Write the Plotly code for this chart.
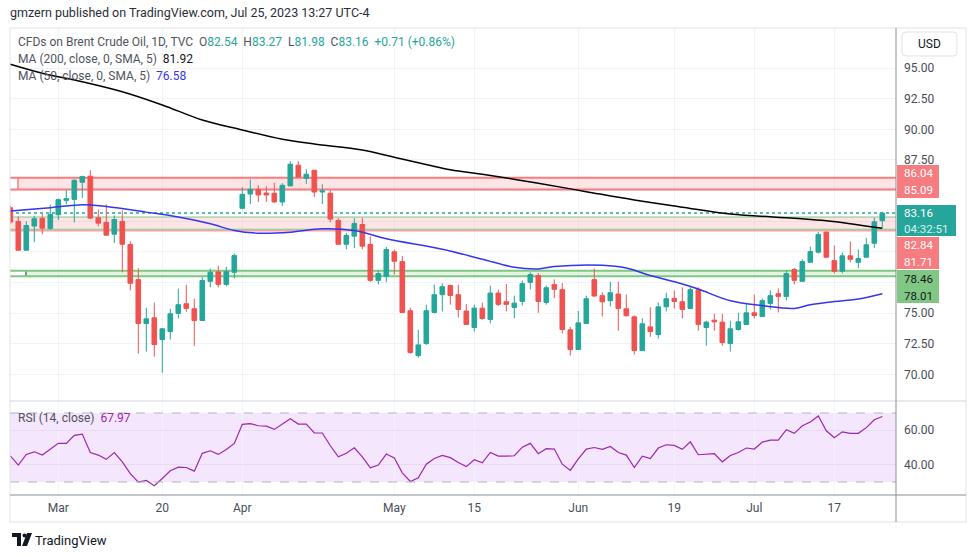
import plotly.graph_objects as go
import pandas as pd

W, H = 970, 557

# ---------------- data ----------------
dates = [d.strftime("%Y-%m-%d") for d in pd.bdate_range("2023-02-21", "2023-07-25")
         if d.strftime("%Y-%m-%d") != "2023-04-07"]

opens = [83.60, 82.48, 80.13, 82.10, 82.73, 81.91, 83.03, 84.20, 84.28, 85.68,
         86.17, 82.78, 82.40, 81.44, 82.48, 80.60, 77.73, 74.15, 74.61, 72.84,
         73.49, 74.97, 75.76, 75.35, 74.39, 77.59, 78.36, 77.34, 78.33, 83.55,
         84.72, 85.10, 84.80, 84.78, 84.07, 85.38, 87.07, 86.00, 86.66, 84.88,
         84.78, 82.56, 80.62, 81.28, 82.23, 80.60, 77.67, 78.00, 80.00, 79.20,
         75.19, 71.53, 72.51, 75.05, 76.50, 77.24, 76.50, 75.16, 73.82, 75.40,
         74.48, 76.63, 75.92, 75.46, 75.95, 77.51, 78.06, 75.87, 77.32, 76.91,
         73.63, 72.02, 74.15, 77.73, 76.42, 76.01, 76.55, 75.35, 74.69, 71.94,
         73.87, 73.25, 75.51, 76.20, 75.92, 75.38, 76.91, 73.82, 74.42, 74.26,
         72.51, 73.66, 74.07, 75.02, 74.72, 75.79, 76.58, 76.36, 78.55, 77.59,
         79.15, 79.97, 81.61, 79.28, 78.41, 79.67, 79.15, 79.56, 80.70, 82.54]
highs = [83.75, 82.89, 82.50, 82.95, 83.11, 83.85, 84.34, 85.02, 85.92, 86.22,
         86.66, 83.46, 83.87, 82.97, 83.38, 80.87, 78.66, 75.43, 75.84, 73.79,
         75.35, 76.99, 77.32, 76.17, 77.92, 78.63, 78.87, 78.79, 79.86, 85.27,
         85.90, 85.43, 85.35, 85.62, 85.60, 87.40, 87.40, 86.74, 86.66, 85.51,
         85.02, 82.75, 81.55, 82.75, 82.78, 81.25, 78.47, 80.40, 80.19, 79.67,
         75.43, 73.63, 75.68, 77.32, 77.43, 77.32, 77.32, 75.73, 75.68, 75.84,
         77.24, 76.91, 77.37, 76.42, 77.65, 78.33, 78.27, 77.24, 77.75, 77.45,
         73.87, 75.16, 76.42, 78.63, 76.69, 77.56, 77.56, 76.52, 74.80, 74.56,
         75.46, 75.87, 76.66, 76.83, 77.10, 77.10, 77.10, 74.37, 74.94, 74.94,
         74.37, 75.02, 75.71, 76.50, 76.20, 76.85, 77.02, 78.47, 78.68, 79.39,
         80.43, 81.63, 81.65, 80.51, 79.94, 80.84, 80.19, 81.14, 82.78, 83.27]
lows = [82.30, 80.10, 80.10, 80.79, 81.44, 81.80, 82.59, 83.87, 82.40, 84.39,
        82.70, 82.07, 81.30, 80.71, 78.33, 76.85, 71.69, 71.85, 71.44, 70.13,
        72.84, 74.56, 75.10, 72.32, 74.39, 77.10, 77.10, 77.18, 77.84, 83.46,
        83.90, 84.07, 84.07, 84.00, 83.74, 85.38, 86.11, 85.54, 84.48, 83.90,
        82.40, 80.62, 80.21, 80.30, 80.21, 77.54, 77.34, 77.51, 78.16, 75.05,
        71.69, 71.36, 72.40, 74.97, 75.13, 75.68, 74.64, 74.07, 73.49, 74.45,
        74.15, 75.57, 75.13, 74.56, 75.62, 76.94, 75.02, 75.68, 76.20, 73.33,
        71.53, 72.02, 74.15, 76.33, 74.72, 75.54, 73.55, 74.72, 71.61, 71.94,
        73.06, 72.92, 75.13, 75.38, 74.56, 75.38, 73.55, 72.34, 73.55, 72.34,
        71.85, 73.55, 74.07, 74.56, 74.72, 75.30, 75.05, 76.03, 77.34, 77.59,
        79.15, 79.86, 79.50, 78.25, 78.25, 79.15, 78.66, 79.56, 80.30, 81.98]
closes = [82.43, 80.13, 82.15, 82.70, 81.93, 83.05, 84.26, 84.34, 85.84, 86.14,
          82.75, 82.34, 81.36, 82.64, 80.62, 77.43, 74.15, 74.53, 72.43, 73.71,
          74.94, 75.68, 75.38, 74.39, 77.65, 78.33, 77.34, 78.38, 79.69, 84.69,
          85.10, 84.64, 84.64, 84.07, 85.43, 87.15, 86.11, 86.33, 84.88, 84.97,
          82.67, 80.62, 81.33, 82.32, 80.46, 77.67, 78.22, 80.19, 79.23, 75.05,
          71.77, 72.40, 75.19, 76.50, 77.15, 76.44, 75.30, 74.07, 75.40, 74.56,
          76.63, 75.71, 75.71, 75.81, 77.40, 78.14, 75.95, 77.07, 76.94, 73.66,
          72.02, 74.20, 76.17, 76.39, 75.92, 76.66, 75.38, 74.78, 71.94, 74.12,
          73.49, 75.51, 76.17, 75.95, 75.30, 76.91, 74.07, 74.26, 74.28, 72.59,
          73.71, 74.28, 75.02, 74.80, 76.01, 76.42, 76.36, 78.22, 77.67, 79.20,
          80.02, 81.42, 79.56, 78.41, 79.67, 79.39, 79.45, 80.57, 82.45, 83.16]

ma200_idx = [0, 4, 9, 14, 19, 24, 29, 34, 38, 44, 48, 55, 59, 66, 72, 78, 84, 90, 98, 102, 109]
ma200_val = [95.31, 94.58, 93.89, 93.07, 91.99, 90.76, 89.95, 89.19, 88.80, 88.31, 87.72,
             86.70, 86.33, 85.60, 84.91, 84.23, 83.64, 83.09, 82.74, 82.54, 81.92]
ma50_idx = [0, 5, 9, 12, 17, 21, 25, 28, 31, 35, 39, 43, 47, 54, 59, 63, 66, 68, 74, 77,
            80, 84, 86, 90, 94, 98, 100, 102, 106, 109]
ma50_val = [83.33, 83.60, 83.85, 83.70, 83.24, 82.84, 82.29, 81.74, 81.52, 81.60, 81.88,
            81.74, 81.06, 80.21, 79.40, 78.74, 78.60, 78.80, 78.90, 78.68, 78.06, 77.37,
            76.96, 76.00, 75.60, 75.38, 75.68, 75.87, 76.14, 76.58]

rsi = [45.2, 39.8, 46.0, 47.5, 45.6, 48.9, 52.4, 52.4, 57.0, 57.8,
       47.1, 45.6, 43.1, 47.1, 41.7, 34.9, 29.9, 30.9, 27.8, 32.0,
       36.5, 38.6, 38.4, 36.3, 46.6, 48.1, 46.0, 48.9, 52.4, 63.4,
       63.8, 62.6, 62.4, 60.5, 63.8, 66.7, 63.6, 63.6, 58.4, 58.4,
       51.0, 44.6, 46.7, 49.8, 44.6, 38.2, 39.8, 46.2, 44.0, 35.3,
       30.3, 32.4, 40.3, 43.6, 45.4, 44.1, 41.3, 38.9, 42.9, 41.1,
       47.1, 45.0, 45.0, 45.2, 50.2, 52.4, 46.4, 49.3, 49.1, 40.3,
       36.7, 43.4, 49.1, 50.0, 48.9, 50.6, 47.1, 45.6, 38.4, 45.0,
       43.6, 49.7, 51.6, 51.2, 48.9, 53.3, 45.8, 46.2, 46.4, 41.7,
       45.4, 47.1, 49.7, 49.1, 53.1, 54.3, 54.3, 60.3, 58.2, 62.6,
       64.8, 68.3, 59.7, 55.7, 59.1, 58.2, 58.2, 61.5, 66.1, 67.97]

tick_dates = ["2023-03-01", "2023-03-20", "2023-04-03", "2023-05-01", "2023-05-15",
              "2023-06-01", "2023-06-19", "2023-07-03", "2023-07-17"]
tick_labels = ["Mar", "20", "Apr", "May", "15", "Jun", "19", "Jul", "17"]
price_ticks = [70.0, 72.5, 75.0, 77.5, 80.0, 82.5, 85.0, 87.5, 90.0, 92.5, 95.0]
# labels 77.50 .. 85.00 are covered by the drawing labels on the price scale
price_tick_labels = ["70.00", "72.50", "75.00", "", "", "", "", "87.50", "90.00", "92.50", "95.00"]
rsi_ticks = [40.0, 60.0]

zone_top = [85.09, 86.04]
zone_mid = [81.71, 82.84]
zone_mid_inner = 81.84
zone_low = [78.01, 78.46]
last_price = 83.16
countdown = "04:32:51"
ohlc_head = {"O": "82.54", "H": "83.27", "L": "81.98", "C": "83.16"}
change_txt = "+0.71 (+0.86%)"
ma200_last, ma50_last, rsi_last = "81.92", "76.58", "67.97"

# ---------------- styling helpers ----------------
UP, DN = "#26a69a", "#ef5350"
RED_Z, GREEN_Z = "#f77c80", "#81c784"
GRID = "#f0f3fa"
FONT = "Roboto"

def PX(x):
    return x / W

def PY(y):
    return 1 - y / H

xs = list(range(len(dates)))
tick_pos = [dates.index(d) for d in tick_dates]
xr = [-0.0375, 110.71]

fig = go.Figure()
fig.add_trace(go.Candlestick(
    x=xs, open=opens, high=highs, low=lows, close=closes,
    increasing=dict(line=dict(color=UP, width=1), fillcolor=UP),
    decreasing=dict(line=dict(color=DN, width=1), fillcolor=DN),
    whiskerwidth=0, xaxis="x", yaxis="y", hoverinfo="skip"))
fig.add_trace(go.Scatter(x=ma200_idx, y=ma200_val, mode="lines", line=dict(color="#000000", width=1.5, shape="spline"),
                         xaxis="x", yaxis="y", hoverinfo="skip"))
fig.add_trace(go.Scatter(x=ma50_idx, y=ma50_val, mode="lines", line=dict(color="#3535f0", width=1.5, shape="spline"),
                         xaxis="x", yaxis="y", hoverinfo="skip"))
fig.add_trace(go.Scatter(x=xs, y=rsi, mode="lines", line=dict(color="#9c27b0", width=1.2),
                         xaxis="x2", yaxis="y2", hoverinfo="skip"))

shapes = []
# zones
shapes.append(dict(type="rect", xref="x", yref="y", x0=0.96, x1=xr[1], y0=zone_top[0], y1=zone_top[1],
                   fillcolor="rgba(247,124,128,0.2)", line=dict(width=0), layer="between"))
shapes.append(dict(type="line", xref="x", yref="y", x0=0.96, x1=0.96, y0=zone_top[0], y1=zone_top[1],
                   line=dict(color=RED_Z, width=1.5), layer="between"))
for v in zone_top:
    shapes.append(dict(type="line", xref="x", yref="y", x0=xr[0], x1=xr[1], y0=v, y1=v,
                       line=dict(color=RED_Z, width=2), layer="between"))
shapes.append(dict(type="rect", xref="x", yref="y", x0=xr[0], x1=xr[1], y0=zone_mid[0], y1=zone_mid[1],
                   fillcolor="rgba(247,124,128,0.2)", line=dict(width=0), layer="between"))
shapes.append(dict(type="line", xref="x", yref="y", x0=xr[0], x1=xr[1], y0=zone_mid[0], y1=zone_mid[0],
                   line=dict(color=RED_Z, width=1), layer="between"))
for v in [zone_mid_inner, zone_mid[1]]:
    shapes.append(dict(type="line", xref="x", yref="y", x0=xr[0], x1=xr[1], y0=v, y1=v,
                       line=dict(color=GREEN_Z, width=1), layer="between"))
shapes.append(dict(type="rect", xref="x", yref="y", x0=1.96, x1=xr[1], y0=zone_low[0], y1=zone_low[1],
                   fillcolor="rgba(129,199,132,0.2)", line=dict(width=0), layer="between"))
shapes.append(dict(type="line", xref="x", yref="y", x0=1.96, x1=1.96, y0=zone_low[0], y1=zone_low[1],
                   line=dict(color="#388e3c", width=1.5), layer="between"))
for v in zone_low:
    shapes.append(dict(type="line", xref="x", yref="y", x0=xr[0], x1=xr[1], y0=v, y1=v,
                       line=dict(color=GREEN_Z, width=2), layer="between"))
# last price dotted line
shapes.append(dict(type="line", xref="x", yref="y", x0=xr[0], x1=xr[1], y0=last_price, y1=last_price,
                   line=dict(color=UP, width=1.5, dash="dot"), layer="between"))
# RSI band
shapes.append(dict(type="rect", xref="paper", yref="y2", x0=PX(10), x1=PX(896), y0=30, y1=70,
                   fillcolor="#f4e6fc", line=dict(width=0), layer="below"))
for v in [30, 70]:
    shapes.append(dict(type="line", xref="paper", yref="y2", x0=PX(10), x1=PX(896), y0=v, y1=v,
                       line=dict(color="#b2b5be", width=1, dash="dash")))
# frame lines
shapes.append(dict(type="rect", xref="paper", yref="paper", x0=PX(10), x1=PX(966), y0=PY(522), y1=PY(28),
                   line=dict(color="#e0e3eb", width=1)))
shapes.append(dict(type="line", xref="paper", yref="paper", x0=PX(10), x1=PX(966), y0=PY(401), y1=PY(401),
                   line=dict(color="#e0e3eb", width=1.5)))
shapes.append(dict(type="line", xref="paper", yref="paper", x0=PX(10), x1=PX(966), y0=PY(495), y1=PY(495),
                   line=dict(color="#8a8d96", width=1)))
shapes.append(dict(type="line", xref="paper", yref="paper", x0=PX(896), x1=PX(896), y0=PY(522), y1=PY(28),
                   line=dict(color="#8a8d96", width=1)))

# price-scale label boxes
def box(x0, x1, y0, y1, color):
    shapes.append(dict(type="rect", xref="paper", yref="paper", x0=PX(x0), x1=PX(x1), y0=PY(y1), y1=PY(y0),
                       fillcolor=color, line=dict(width=0), layer="above"))

box(897, 939, 165, 198, RED_Z)
box(897, 956, 205, 236, UP)
box(897, 939, 237, 269, RED_Z)
box(897, 939, 270, 303, GREEN_Z)

# USD button (rounded)
x0, x1, y0, y1, r = PX(902), PX(957), PY(32), PY(56), 4
rx, ry = r / W, r / H
path = (f"M{x0+rx},{y0} L{x1-rx},{y0} Q{x1},{y0} {x1},{y0-ry} L{x1},{y1+ry} Q{x1},{y1} {x1-rx},{y1} "
        f"L{x0+rx},{y1} Q{x0},{y1} {x0},{y1+ry} L{x0},{y0-ry} Q{x0},{y0} {x0+rx},{y0} Z")
shapes.append(dict(type="path", xref="paper", yref="paper", path=path, line=dict(color="#e0e3eb", width=1),
                   fillcolor="white"))

# TradingView logo glyph
shapes.append(dict(type="path", xref="paper", yref="paper",
                   path=f"M{PX(12)},{PY(533)} L{PX(21)},{PY(533)} L{PX(21)},{PY(546)} L{PX(17)},{PY(546)} "
                        f"L{PX(17)},{PY(537)} L{PX(12)},{PY(537)} Z",
                   fillcolor="#131722", line=dict(width=0)))
shapes.append(dict(type="circle", xref="paper", yref="paper", x0=PX(22.5), x1=PX(26.5), y0=PY(537.5), y1=PY(533.5),
                   fillcolor="#131722", line=dict(width=0)))
shapes.append(dict(type="path", xref="paper", yref="paper",
                   path=f"M{PX(27)},{PY(533)} L{PX(32)},{PY(533)} L{PX(27)},{PY(546)} L{PX(22)},{PY(546)} Z",
                   fillcolor="#131722", line=dict(width=0)))

ann = []
def text(x, y, s, size=12, color="#131722", xanchor="left"):
    ann.append(dict(x=PX(x), y=PY(y), xref="paper", yref="paper", text=s, showarrow=False,
                    xanchor=xanchor, yanchor="middle", borderpad=0,
                    font=dict(family=FONT, size=size, color=color)))

G = "#50535e"
sp = "&nbsp;"
text(9, 12, "gmzern published on TradingView.com, Jul 25, 2023 13:27 UTC-4", 12.5, "#2a2e39")
head = f"<span style='color:{G}'>CFDs on Brent Crude Oil, 1D, TVC</span>{sp}{sp}"
for k, v in ohlc_head.items():
    head += f"<span style='color:{G}'>{k}</span><span style='color:{UP}'>{v}</span>{sp}{sp}"
head += f"<span style='color:{UP}'>{change_txt}</span>"
text(17, 42, head, 12)
text(17, 59, f"<span style='color:{G}'>MA (200, close, 0, SMA, 5)</span>{sp}{sp}<span style='color:#131722'>{ma200_last}</span>", 12)
text(17, 76, f"<span style='color:{G}'>MA (50, close, 0, SMA, 5)</span>{sp}{sp}<span style='color:#3535f0'>{ma50_last}</span>", 12)
text(17, 418, f"<span style='color:{G}'>RSI (14, close)</span>{sp}{sp}<span style='color:#9c27b0'>{rsi_last}</span>", 12)

# price box labels
lab = 11.5
text(903, 173, f"{zone_top[1]:.2f}", lab, "white")
text(903, 190, f"{zone_top[0]:.2f}", lab, "white")
text(903, 212.5, f"{last_price:.2f}", lab, "white")
text(903, 228.5, countdown, lab, "#d8f1ee")
text(903, 245, f"{zone_mid[1]:.2f}", lab, "white")
text(903, 262, f"{zone_mid[0]:.2f}", lab, "white")
text(903, 278.5, f"{zone_low[1]:.2f}", lab, "#131722")
text(903, 295.5, f"{zone_low[0]:.2f}", lab, "#131722")
text(929.5, 44, "USD", 12, "#131722", "center")
text(34, 540, "TradingView", 13, "#131722")

axis_font = dict(family=FONT, size=12, color="#4a4d57")
fig.update_layout(
    width=W, height=H, autosize=False, margin=dict(l=0, r=0, t=0, b=0),
    paper_bgcolor="white", plot_bgcolor="white", showlegend=False,
    boxgap=0.42, boxgroupgap=0,
    xaxis=dict(domain=[PX(10), PX(896)], range=xr, anchor="y", tickvals=tick_pos, showticklabels=False,
               showgrid=True, gridcolor=GRID, zeroline=False, showline=False, ticks="",
               rangeslider=dict(visible=False), fixedrange=True),
    yaxis=dict(domain=[PY(401), PY(29)], range=[67.82, 98.19], anchor="x", side="right",
               tickvals=price_ticks, ticktext=price_tick_labels, tickfont=axis_font,
               showgrid=True, gridcolor=GRID, zeroline=False, showline=False, ticks="",
               ticklabelstandoff=7, fixedrange=True),
    xaxis2=dict(domain=[PX(10), PX(896)], range=xr, anchor="y2", matches="x", tickvals=tick_pos,
                ticktext=tick_labels, tickfont=axis_font, showgrid=True, gridcolor=GRID, zeroline=False,
                showline=False, ticks="", ticklabelstandoff=4, fixedrange=True),
    yaxis2=dict(domain=[PY(495), PY(401)], range=[22.46, 76.96], anchor="x2", side="right",
                tickvals=rsi_ticks, ticktext=[f"{v:.2f}" for v in rsi_ticks], tickfont=axis_font,
                showgrid=True, gridcolor="#e8daf3", zeroline=False, showline=False, ticks="",
                ticklabelstandoff=7, fixedrange=True),
    shapes=shapes, annotations=ann,
)
fig.write_html("out.html", config={"displayModeBar": False},
               post_script="document.body.style.margin='0';document.body.style.overflow='hidden';")
